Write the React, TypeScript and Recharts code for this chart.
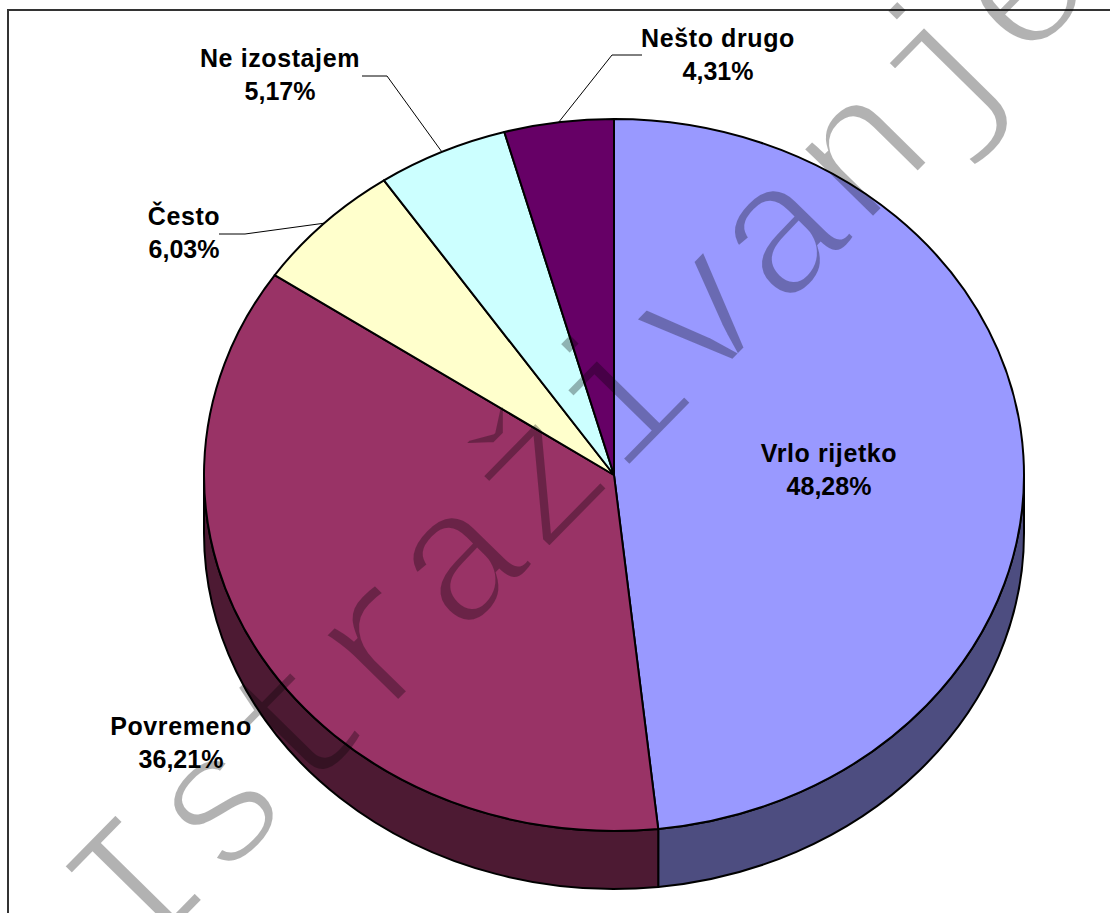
import { Pie, PieChart } from "recharts"

const categories = ["Vrlo rijetko", "Povremeno", "Često", "Ne izostajem", "Nešto drugo"]
const values = [48.28, 36.21, 6.03, 5.17, 4.31]
const valueLabels = ["48,28%", "36,21%", "6,03%", "5,17%", "4,31%"]
const topColors = ["#9999ff", "#993366", "#ffffcc", "#ccffff", "#660066"]
const sideColors = ["#4d4d80", "#4d1a33", "#808066", "#668080", "#330033"]

const data = categories.map((name, i) => ({
  name,
  value: values[i],
  valueLabel: valueLabels[i],
  fill: topColors[i],
  side: sideColors[i],
}))

// label placement: text centre, and leader elbow (none for labels sitting by the pie)
const labelBoxes = [
  { x: 829, y: 453, line: null },
  { x: 181, y: 726, line: null },
  { x: 184, y: 216, line: [[219, 234], [245, 234]] },
  { x: 280, y: 58, line: [[362, 76], [387, 76]] },
  { x: 718, y: 38, line: [[642, 55], [612, 55]] },
]

const CX = 614
const CY = 475
const RX = 410
const RY = 356
const DEPTH = 58
const RAD = Math.PI / 180

const px = (a: number) => CX + RX * Math.cos(a * RAD)
const py = (a: number) => CY - RY * Math.sin(a * RAD)

function TopSector(props: any) {
  const { startAngle, endAngle, fill } = props
  const large = Math.abs(startAngle - endAngle) > 180 ? 1 : 0
  const d = `M${CX},${CY}L${px(startAngle)},${py(startAngle)}A${RX},${RY} 0 ${large} 1 ${px(endAngle)},${py(endAngle)}Z`
  return <path d={d} fill={fill} stroke="#000" strokeWidth={2} strokeLinejoin="round" />
}

// the rim of the disc: only the part of a slice on the front half shows
function SideSector(props: any) {
  const { startAngle, endAngle, payload } = props
  const s = Math.min(startAngle, 0)
  const e = Math.max(endAngle, -180)
  if (s <= e) return <g />
  const d =
    `M${px(s)},${py(s)}A${RX},${RY} 0 0 1 ${px(e)},${py(e)}` +
    `L${px(e)},${py(e) + DEPTH}A${RX},${RY} 0 0 0 ${px(s)},${py(s) + DEPTH}Z`
  return <path d={d} fill={payload.side} stroke="#000" strokeWidth={2} strokeLinejoin="round" />
}

function SliceLabel(props: any) {
  const { index, midAngle, payload } = props
  const box = labelBoxes[index]
  const textStyle = { fontFamily: "Liberation Sans", fontSize: 25, fontWeight: 700, letterSpacing: 0.6 }
  const points = box.line ? [...box.line, [px(midAngle), py(midAngle)]] : null
  return (
    <g>
      {points && <polyline points={points.join(" ")} fill="none" stroke="#000" strokeWidth={1} />}
      <text x={box.x} y={box.y + 9} textAnchor="middle" fill="#000" style={textStyle}>
        {payload.name}
      </text>
      <text x={box.x} y={box.y + 42} textAnchor="middle" fill="#000" style={{ ...textStyle, letterSpacing: 0 }}>
        {payload.valueLabel}
      </text>
    </g>
  )
}

export default function App() {
  return (
    <div style={{ position: "absolute", left: 0, top: 0, width: 1110, height: 913, overflow: "hidden", background: "#fff" }}>
      <div style={{ position: "absolute", left: 7, top: 9, width: 1200, height: 1000, borderLeft: "2px solid #333", borderTop: "2px solid #333" }} />
      <div style={{ position: "absolute", left: 0, top: 0 }}>
        <PieChart width={1110} height={913} margin={{ top: 0, right: 0, bottom: 0, left: 0 }}>
          <Pie
            data={data}
            dataKey="value"
            nameKey="name"
            cx={CX}
            cy={CY}
            outerRadius={RX}
            startAngle={90}
            endAngle={-270}
            stroke="none"
            shape={SideSector}
            isAnimationActive={false}
          />
          <Pie
            data={data}
            dataKey="value"
            nameKey="name"
            cx={CX}
            cy={CY}
            outerRadius={RX}
            startAngle={90}
            endAngle={-270}
            shape={TopSector}
            label={SliceLabel}
            labelLine={false}
            isAnimationActive={false}
          />
        </PieChart>
      </div>
      <svg width={1110} height={913} style={{ position: "absolute", left: 0, top: 0, pointerEvents: "none" }}>
        <defs>
          <mask id="wm" maskUnits="userSpaceOnUse" x={0} y={0} width={1110} height={913}>
            <text
              transform="translate(138,968) rotate(-45.5)"
              fontFamily="Liberation Mono"
              fontSize={191}
              fill="#fff"
              stroke="#000"
              strokeWidth={6}
            >
              Istraživanje
            </text>
          </mask>
        </defs>
        <rect x={0} y={0} width={1110} height={913} fill="#000" fillOpacity={0.3} mask="url(#wm)" />
      </svg>
    </div>
  )
}
